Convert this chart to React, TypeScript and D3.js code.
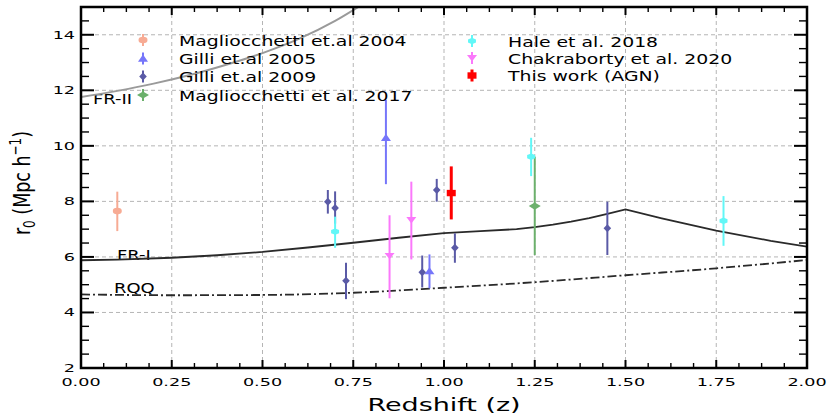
import * as d3 from "d3";

// ---- data ----
type Pt = { z: number; r: number; lo: number; hi: number };

const mag04: Pt[] = [{ z: 0.1, r: 7.65, lo: 0.72, hi: 0.7 }];
const gilli05: Pt[] = [
  { z: 0.84, r: 10.29, lo: 1.67, hi: 1.36 },
  { z: 0.96, r: 5.49, lo: 0.62, hi: 0.6 },
];
const gilli09: Pt[] = [
  { z: 0.68, r: 7.99, lo: 0.43, hi: 0.42 },
  { z: 0.7, r: 7.76, lo: 0.56, hi: 0.6 },
  { z: 0.73, r: 5.14, lo: 0.66, hi: 0.65 },
  { z: 0.94, r: 5.45, lo: 0.55, hi: 0.6 },
  { z: 0.98, r: 8.41, lo: 0.42, hi: 0.4 },
  { z: 1.03, r: 6.33, lo: 0.54, hi: 0.52 },
  { z: 1.45, r: 7.03, lo: 0.96, hi: 0.96 },
];
const mag17: Pt[] = [{ z: 1.25, r: 7.83, lo: 1.76, hi: 1.78 }];
const hale18: Pt[] = [
  { z: 0.7, r: 6.91, lo: 0.58, hi: 0.54 },
  { z: 1.24, r: 9.61, lo: 0.7, hi: 0.68 },
  { z: 1.77, r: 7.3, lo: 0.9, hi: 0.89 },
];
const chak20: Pt[] = [
  { z: 0.85, r: 6.04, lo: 1.53, hi: 1.46 },
  { z: 0.91, r: 7.33, lo: 1.42, hi: 1.38 },
];
const thisWork: Pt[] = [{ z: 1.02, r: 8.3, lo: 0.95, hi: 0.96 }];

// model curves
const frIIz = [0, 0.1, 0.2, 0.3, 0.4, 0.5, 0.6, 0.7, 0.8];
const frIIr = [11.76, 11.98, 12.24, 12.55, 12.92, 13.34, 13.85, 14.5, 15.3];
const frIz = [0, 0.1, 0.25, 0.375, 0.5, 0.625, 0.75, 0.875, 1.0, 1.1, 1.2, 1.25, 1.3, 1.35, 1.4, 1.45, 1.5, 1.6, 1.75, 1.9, 2.0];
const frIr = [5.88, 5.9, 5.97, 6.06, 6.18, 6.34, 6.51, 6.69, 6.86, 6.93, 7.0, 7.07, 7.16, 7.27, 7.4, 7.55, 7.71, 7.39, 6.95, 6.58, 6.37];
const rqqZ = [0, 0.25, 0.5, 0.75, 1.0, 1.25, 1.5, 1.75, 2.0];
const rqqR = [4.65, 4.62, 4.63, 4.71, 4.89, 5.09, 5.34, 5.59, 5.89];

const xTicks = [0, 0.25, 0.5, 0.75, 1.0, 1.25, 1.5, 1.75, 2.0];
const yTicks = [2, 4, 6, 8, 10, 12, 14];

type Shape = "circle" | "tri" | "triDown" | "diamond" | "square" | "hex";
type Series = { name: string; pts: Pt[]; color: string; shape: Shape; rx: number; ry: number; ew: number };

const series: Series[] = [
  { name: "Magliocchetti et.al 2004", pts: mag04, color: "#f7ab94", shape: "circle", rx: 4.5, ry: 3.3, ew: 2 },
  { name: "Gilli et.al 2005", pts: gilli05, color: "#7676fa", shape: "tri", rx: 5, ry: 3.6, ew: 2 },
  { name: "Gilli et.al 2009", pts: gilli09, color: "#5a5aa6", shape: "diamond", rx: 3.8, ry: 4, ew: 2 },
  { name: "Magliocchetti et al. 2017", pts: mag17, color: "#6cb06c", shape: "diamond", rx: 6, ry: 3.6, ew: 2 },
  { name: "Hale et al. 2018", pts: hale18, color: "#62f7f7", shape: "hex", rx: 4.6, ry: 3.2, ew: 2 },
  { name: "Chakraborty et al. 2020", pts: chak20, color: "#fb78fb", shape: "triDown", rx: 5, ry: 3.2, ew: 2 },
  { name: "This work (AGN)", pts: thisWork, color: "#ff0000", shape: "square", rx: 4.5, ry: 3.2, ew: 3 },
];

// legend slots (two columns, matplotlib column-major)
const legendCols = [
  { mx: 143, tx: 179, ys: [40, 58.5, 76.5, 95] },
  { mx: 472, tx: 508, ys: [41, 58, 75.5] },
];

const W = 831;
const H = 415;
const x = d3.scaleLinear().domain([0, 2]).range([81, 807]);
const y = d3.scaleLinear().domain([2, 15]).range([368, 7]);

const FONT = "DejaVu Sans, Verdana, sans-serif";

function markerPath(shape: Shape, rx: number, ry: number): string {
  const poly = (p: [number, number][]) => d3.line()(p)! + "Z";
  switch (shape) {
    case "circle":
      return `M${-rx},0A${rx},${ry} 0 1,0 ${rx},0A${rx},${ry} 0 1,0 ${-rx},0Z`;
    case "tri":
      return poly([[0, -ry * 1.1], [rx, ry * 0.9], [-rx, ry * 0.9]]);
    case "triDown":
      return poly([[0, ry * 1.1], [rx, -ry * 0.9], [-rx, -ry * 0.9]]);
    case "diamond":
      return poly([[0, -ry], [rx, 0], [0, ry], [-rx, 0]]);
    case "square":
      return poly([[-rx, -ry], [rx, -ry], [rx, ry], [-rx, ry]]);
    case "hex":
      return poly(d3.range(6).map((i) => {
        const a = (Math.PI / 3) * i + Math.PI / 6;
        return [rx * Math.cos(a), ry * Math.sin(a)] as [number, number];
      }));
  }
}

// text that is stretched horizontally like the squashed source figure
function T({ px, py, size, sx, anchor = "start", children, weight }: any) {
  return (
    <text
      transform={`translate(${px},${py}) scale(${sx},1)`}
      fontSize={size}
      fontFamily={FONT}
      textAnchor={anchor}
      fontWeight={weight}
      fill="#000"
    >
      {children}
    </text>
  );
}

export default function App() {
  const x0 = x.range()[0], x1 = x.range()[1];
  const yB = y.range()[0], yT = y.range()[1];

  const xMinor = d3.range(0, 2.0001, 0.0625).filter((v) => Math.abs((v / 0.25) - Math.round(v / 0.25)) > 1e-6);
  const yMinor = d3.range(2, 15.0001, 0.5).filter((v) => Math.abs(v / 2 - Math.round(v / 2)) > 1e-6);

  const frII = d3.line<number>().curve(d3.curveMonotoneX).x((_, i) => x(frIIz[i])).y((d) => y(d))(frIIr)!;
  const frI = d3.line<number>().x((_, i) => x(frIz[i])).y((d) => y(d))(frIr)!;
  const rqq = d3.line<number>().curve(d3.curveMonotoneX).x((_, i) => x(rqqZ[i])).y((d) => y(d))(rqqR)!;

  return (
    <svg width={W} height={H} style={{ position: "absolute", left: 0, top: 0, background: "#fff" }}>
      <defs>
        <clipPath id="plot">
          <rect x={x0} y={yT} width={x1 - x0} height={yB - yT} />
        </clipPath>
      </defs>

      {/* grid */}
      <g stroke="#b5b5b5" strokeWidth={1} strokeDasharray="4,3">
        {xTicks.slice(1, -1).map((t) => (
          <line key={"gx" + t} x1={x(t)} x2={x(t)} y1={yT} y2={yB} />
        ))}
        {yTicks.slice(1).map((t) => (
          <line key={"gy" + t} x1={x0} x2={x1} y1={y(t)} y2={y(t)} />
        ))}
      </g>

      {/* curve labels */}
      <T px={93} py={104} size={13.5} sx={1.33}>FR-II</T>
      <T px={117} py={260} size={13.5} sx={1.33}>FR-I</T>
      <T px={114} py={293} size={13.5} sx={1.33}>RQQ</T>

      {/* model curves */}
      <g clipPath="url(#plot)" fill="none">
        <path d={frII} stroke="#9a9a9a" strokeWidth={2} />
        <path d={frI} stroke="#2a2a2a" strokeWidth={1.8} />
        <path d={rqq} stroke="#2a2a2a" strokeWidth={1.8} strokeDasharray="9,3,2,3" />
      </g>

      {/* data with error bars */}
      {series.map((s) => (
        <g key={s.name}>
          {s.pts.map((p, i) => (
            <g key={i}>
              <line x1={x(p.z)} x2={x(p.z)} y1={y(p.r + p.hi)} y2={y(p.r - p.lo)} stroke={s.color} strokeWidth={s.ew} />
              <path d={markerPath(s.shape, s.rx, s.ry)} transform={`translate(${x(p.z)},${y(p.r)})`} fill={s.color} />
            </g>
          ))}
        </g>
      ))}

      {/* legend */}
      {series.map((s, i) => {
        const col = i < 4 ? legendCols[0] : legendCols[1];
        const cy = col.ys[i < 4 ? i : i - 4];
        return (
          <g key={"lg" + s.name}>
            <line x1={col.mx} x2={col.mx} y1={cy - 6} y2={cy + 6} stroke={s.color} strokeWidth={s.ew} />
            <path d={markerPath(s.shape, s.rx, s.ry)} transform={`translate(${col.mx},${cy})`} fill={s.color} />
            <T px={col.tx} py={cy + 5.5} size={14.5} sx={1.3}>{s.name}</T>
          </g>
        );
      })}

      {/* ticks, all four sides, inward */}
      <g stroke="#000">
        {xTicks.map((t) => (
          <g key={"xt" + t} strokeWidth={2}>
            <line x1={x(t)} x2={x(t)} y1={yB} y2={yB - 8} />
            <line x1={x(t)} x2={x(t)} y1={yT} y2={yT + 8} />
          </g>
        ))}
        {xMinor.map((t) => (
          <g key={"xm" + t} strokeWidth={1.4}>
            <line x1={x(t)} x2={x(t)} y1={yB} y2={yB - 5} />
            <line x1={x(t)} x2={x(t)} y1={yT} y2={yT + 5} />
          </g>
        ))}
        {yTicks.map((t) => (
          <g key={"yt" + t} strokeWidth={2}>
            <line x1={x0} x2={x0 + 13} y1={y(t)} y2={y(t)} />
            <line x1={x1} x2={x1 - 13} y1={y(t)} y2={y(t)} />
          </g>
        ))}
        {yMinor.map((t) => (
          <g key={"ym" + t} strokeWidth={1.4}>
            <line x1={x0} x2={x0 + 8} y1={y(t)} y2={y(t)} />
            <line x1={x1} x2={x1 - 8} y1={y(t)} y2={y(t)} />
          </g>
        ))}
      </g>

      {/* frame */}
      <rect x={x0} y={yT} width={x1 - x0} height={yB - yT} fill="none" stroke="#000" strokeWidth={2.5} />

      {/* tick labels */}
      {xTicks.map((t) => (
        <T key={"xl" + t} px={x(t)} py={385.5} size={11} sx={1.6} anchor="middle">{t.toFixed(2)}</T>
      ))}
      {yTicks.map((t) => (
        <T key={"yl" + t} px={75} py={y(t) + 4} size={11} sx={1.6} anchor="end">{String(t)}</T>
      ))}

      {/* axis titles */}
      <T px={444} py={411} size={17.4} sx={1.55} anchor="middle">Redshift (z)</T>
      <text transform="translate(30,183) rotate(-90) scale(1,1.35)" fontSize={17.5} fontFamily={FONT} textAnchor="middle">
        r<tspan fontSize={12} dy={4}>0</tspan>
        <tspan dy={-4}> (Mpc h</tspan>
        <tspan fontSize={12} dy={-7}>−1</tspan>
        <tspan dy={7}>)</tspan>
      </text>
    </svg>
  );
}
